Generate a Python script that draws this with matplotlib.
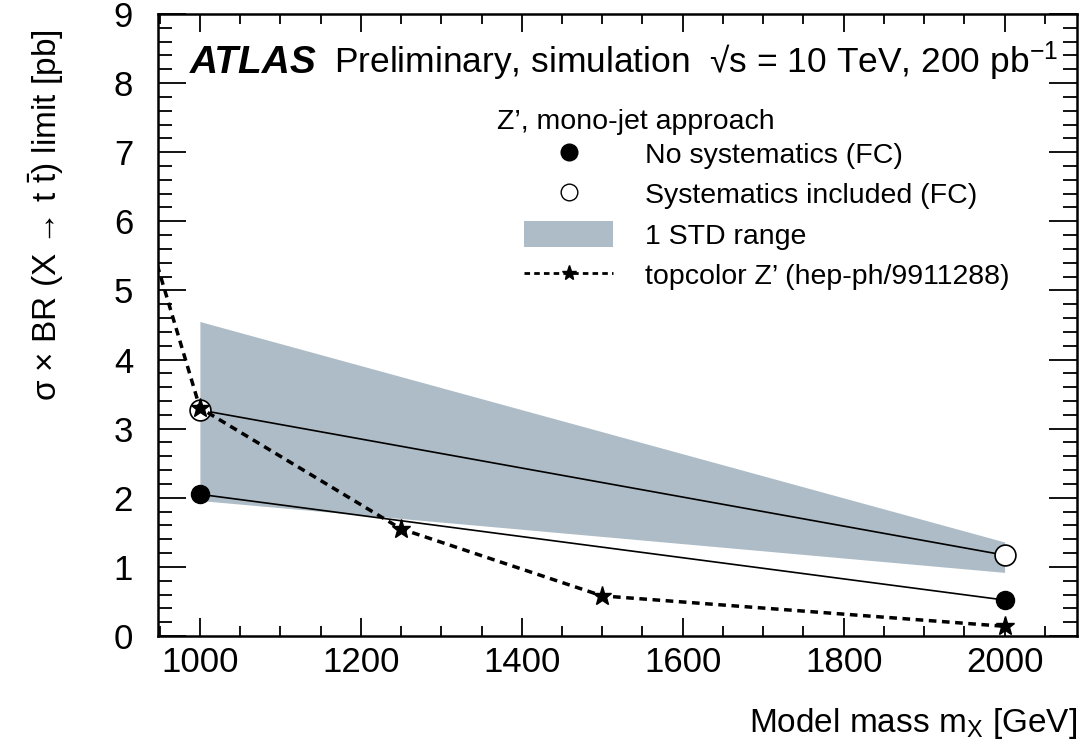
import matplotlib
matplotlib.use("Agg")
import matplotlib.pyplot as plt
from matplotlib.ticker import MultipleLocator
from matplotlib.patches import Patch
from matplotlib.lines import Line2D

plt.rcParams['font.family'] = ['Liberation Sans', 'DejaVu Sans']
plt.rcParams['mathtext.fontset'] = 'custom'
plt.rcParams['mathtext.rm'] = 'Liberation Sans'
plt.rcParams['mathtext.it'] = 'Liberation Sans:italic'
plt.rcParams['mathtext.bf'] = 'Liberation Sans:bold'

# limits from the simulation, in pb
mass = [1000, 2000]
no_syst = [2.05, 0.52]
with_syst = [3.27, 1.17]
band_low = [1.96, 0.92]
band_high = [4.55, 1.36]

# topcolor Z' theory curve
topcolor_mass = [900, 1000, 1250, 1500, 2000]
topcolor_xsec = [7.2, 3.30, 1.55, 0.58, 0.14]

band_color = '#adbcc6'

fig = plt.figure(figsize=(10.87, 7.44), dpi=100)
ax = fig.add_axes([0.1454, 0.1452, 0.9908 - 0.1454, 0.9812 - 0.1452])

ax.fill_between(mass, band_low, band_high, color=band_color, lw=0, zorder=1)
ax.plot(mass, no_syst, color='black', lw=1.2, marker='o', ms=13,
        mfc='black', mec='black', zorder=3)
ax.plot(mass, with_syst, color='black', lw=1.2, marker='o', ms=15,
        mfc='white', mec='black', mew=1.2, zorder=3)
ax.plot(topcolor_mass, topcolor_xsec, color='black', lw=2.5, ls=(0, (2.2, 1.6)),
        marker='*', ms=14, mfc='black', mec='black', zorder=4)

ax.set_xlim(948, 2090)
ax.set_ylim(0, 9)

ax.xaxis.set_major_locator(MultipleLocator(200))
ax.xaxis.set_minor_locator(MultipleLocator(50))
ax.yaxis.set_major_locator(MultipleLocator(1))
ax.yaxis.set_minor_locator(MultipleLocator(0.2))
ax.tick_params(which='both', direction='in', top=True, right=True, width=1.3)
ax.tick_params(axis='x', which='major', length=13, labelsize=25, pad=7)
ax.tick_params(axis='x', which='minor', length=7)
ax.tick_params(axis='y', which='major', length=20, labelsize=25, pad=18)
ax.tick_params(axis='y', which='minor', length=10)
for s in ax.spines.values():
    s.set_linewidth(1.8)

ax.set_xlabel(r'Model mass m$_{\mathrm{X}}$ [GeV]', fontsize=24, ha='right', x=1.0, labelpad=20)
ax.set_ylabel('σ × BR (X → t $\\bar{\\mathrm{t}}$) limit [pb]', fontsize=24,
              ha='right', y=0.975, labelpad=34)

ax.text(0.035, 0.905, 'ATLAS', transform=ax.transAxes, fontsize=28,
        fontweight='bold', fontstyle='italic')
ax.text(0.192, 0.905, 'Preliminary, simulation  √s = 10 TeV, 200 pb$^{\\mathrm{-1}}$',
        transform=ax.transAxes, fontsize=25.5)

ax.text(0.369, 0.815, 'Z\u2019, mono-jet approach', transform=ax.transAxes, fontsize=20.5)

handles = [
    Line2D([], [], ls='none', marker='o', ms=12, mfc='black', mec='black'),
    Line2D([], [], ls='none', marker='o', ms=12, mfc='white', mec='black'),
    Patch(facecolor=band_color, edgecolor='none'),
    Line2D([], [], color='black', lw=2, ls=(0, (2, 1.5)), marker='*', ms=11),
]
labels = ['No systematics (FC)', 'Systematics included (FC)', '1 STD range',
          'topcolor Z\u2019 (hep-ph/9911288)']
leg = ax.legend(handles, labels, loc='upper left',
                bbox_to_anchor=(0.37, 0.838), frameon=False, fontsize=20.5,
                handlelength=3.15, handleheight=1.0,
                labelspacing=0.42, handletextpad=1.1)

fig.savefig('out.png', dpi=100)
